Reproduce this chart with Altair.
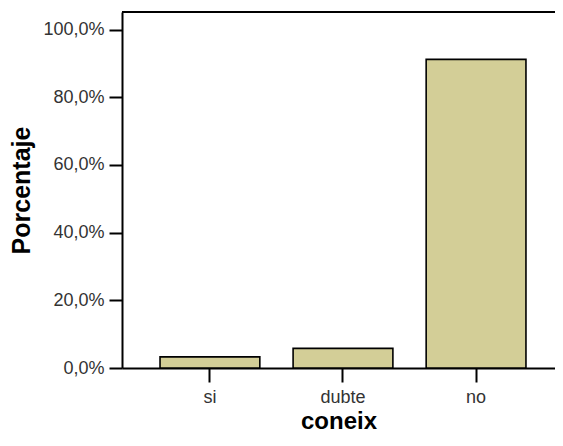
import altair as alt
import pandas as pd

categories = ["si", "dubte", "no"]
percentages = [3.3, 5.8, 91.2]
y_ticks = [0, 20, 40, 60, 80, 100]

df = pd.DataFrame({"coneix": categories, "pct": percentages})

W, H = 433, 356

bars = alt.Chart(df).mark_bar(
    fill="#D3CE97", stroke="#000000", strokeWidth=1.6
).encode(
    x=alt.X("coneix:N", sort=categories,
            scale=alt.Scale(paddingInner=0.25, paddingOuter=0.252, align=0.567),
            axis=alt.Axis(title="coneix", labelAngle=0, labelFontSize=18,
                          labelColor="#333333", labelFont="Liberation Sans",
                          labelPadding=6, tickSize=14, tickColor="#000000",
                          tickWidth=2, domainColor="#000000", domainWidth=2,
                          titleFontSize=24, titleFont="Liberation Sans",
                          titleFontWeight="bold", titleColor="#000000",
                          titlePadding=3)),
    y=alt.Y("pct:Q",
            scale=alt.Scale(domain=[0, 105.2], nice=False),
            axis=alt.Axis(title="Porcentaje", values=y_ticks, grid=False,
                          labelExpr="replace(format(datum.value, '.1f'), '.', ',') + '%'",
                          labelFontSize=18, labelColor="#333333",
                          labelFont="Liberation Sans", labelPadding=5,
                          tickSize=13, tickColor="#000000", tickWidth=2,
                          domainColor="#000000", domainWidth=2,
                          titleFontSize=25, titleFont="Liberation Sans",
                          titleFontWeight="bold", titleColor="#000000",
                          titlePadding=8))
)

top_line = alt.Chart(df).mark_rule(color="#000000", strokeWidth=2).encode(
    x=alt.value(0), x2=alt.value(W), y=alt.value(0)
)

chart = alt.layer(bars, top_line).properties(
    width=W, height=H,
    autosize=alt.AutoSizeParams(type="none"),
    padding={"left": 114, "top": 4, "right": 0, "bottom": 65},
).configure_view(stroke=None).configure(background="#ffffff")

chart.save("out.html", embed_options={"renderer": "svg", "actions": False})
